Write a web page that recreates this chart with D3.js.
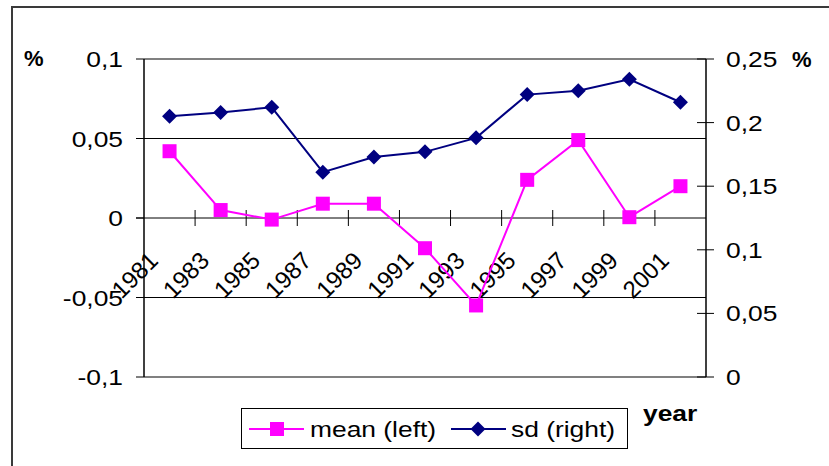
<!DOCTYPE html>
<html>
<head>
<meta charset="utf-8">
<script src="https://cdn.jsdelivr.net/npm/d3@7"></script>
<style>
  body { margin: 0; background: #fff; }
  svg { display: block; font-family: "Liberation Sans", Arial, sans-serif; }
</style>
</head>
<body>
<svg id="chart" width="829" height="466"></svg>
<script>
// data
var years = ["1981","1983","1985","1987","1989","1991","1993","1995","1997","1999","2001"];
var meanVals = [0.042, 0.005, -0.001, 0.009, 0.009, -0.019, -0.055, 0.024, 0.049, 0.0005, 0.020];
var sdVals = [0.205, 0.208, 0.212, 0.161, 0.173, 0.177, 0.188, 0.222, 0.225, 0.234, 0.216];
var leftTicks = [-0.1, -0.05, 0, 0.05, 0.1];
var rightTicks = [0, 0.05, 0.1, 0.15, 0.2, 0.25];

var svg = d3.select("#chart");
var fmt = function(v){ return String(+v.toFixed(2)).replace(".", ","); };
var sx = 1.2; // source picture is a bit wide

var x = d3.scaleBand().domain(years).range([144, 706]).paddingInner(0).paddingOuter(0);
var yL = d3.scaleLinear().domain([-0.1, 0.1]).range([377, 59]);
var yR = d3.scaleLinear().domain([0, 0.25]).range([377, 59]);

function label(txt, px, py, anchor, size, bold){
  return svg.append("text")
    .attr("transform", "translate(" + px + "," + py + ") scale(" + sx + ",1)")
    .attr("text-anchor", anchor || "start")
    .attr("font-size", size || 22)
    .attr("font-weight", bold ? "bold" : "normal")
    .attr("fill", "#000")
    .text(txt);
}

// outer frame (only top and left show)
svg.append("path").attr("d", "M12,466V7H829").attr("fill", "none")
  .attr("stroke", "#3a3a3a").attr("stroke-width", 2);

// gridlines
var g = svg.append("g");
g.selectAll(".grid").data([-0.05, 0.05]).enter().append("line")
  .attr("x1", 144).attr("x2", 706)
  .attr("y1", function(d){ return yL(d); }).attr("y2", function(d){ return yL(d); })
  .attr("stroke", "#000").attr("stroke-width", 1);
// plot border top/bottom
g.selectAll(".pb").data([0.1, -0.1]).enter().append("line")
  .attr("x1", 144).attr("x2", 706)
  .attr("y1", function(d){ return yL(d); }).attr("y2", function(d){ return yL(d); })
  .attr("stroke", "#808080").attr("stroke-width", 2);

// left axis
g.append("line").attr("x1", 144).attr("x2", 144).attr("y1", 59).attr("y2", 377)
  .attr("stroke", "#000").attr("stroke-width", 1.5);
g.selectAll(".lt").data(leftTicks).enter().append("line")
  .attr("x1", 136).attr("x2", 144)
  .attr("y1", function(d){ return yL(d); }).attr("y2", function(d){ return yL(d); })
  .attr("stroke", "#000").attr("stroke-width", 1);
leftTicks.forEach(function(t){
  label(t === 0 ? "0" : fmt(t), 123, yL(t) + 8, "end");
});

// right axis
g.append("line").attr("x1", 706).attr("x2", 706).attr("y1", 59).attr("y2", 377)
  .attr("stroke", "#000").attr("stroke-width", 1.5);
g.selectAll(".rt").data(rightTicks).enter().append("line")
  .attr("x1", 697).attr("x2", 714)
  .attr("y1", function(d){ return yR(d); }).attr("y2", function(d){ return yR(d); })
  .attr("stroke", "#000").attr("stroke-width", 1);
rightTicks.forEach(function(t){
  label(t === 0 ? "0" : fmt(t), 726, yR(t) + 8, "start");
});

// category axis at zero
var y0 = yL(0);
g.append("line").attr("x1", 136).attr("x2", 706).attr("y1", y0).attr("y2", y0)
  .attr("stroke", "#000").attr("stroke-width", 1);
var bounds = years.slice(1).map(function(d){ return x(d); });
g.selectAll(".ct").data(bounds).enter().append("line")
  .attr("x1", function(d){ return d; }).attr("x2", function(d){ return d; })
  .attr("y1", y0 - 8).attr("y2", y0 + 8)
  .attr("stroke", "#000").attr("stroke-width", 1);
svg.selectAll(".yl").data(years).enter().append("text")
  .attr("transform", function(d){
    return "translate(" + (x(d) + x.bandwidth() / 2 - 10) + "," + (y0 + 44) + ") rotate(-45)";
  })
  .attr("text-anchor", "end")
  .attr("font-size", 24)
  .text(function(d){ return d; });

// lines
var cx = function(d, i){ return x(years[i]) + x.bandwidth() / 2; };
svg.append("path").datum(meanVals)
  .attr("d", d3.line().x(cx).y(function(d){ return yL(d); }))
  .attr("fill", "none").attr("stroke", "#ff00ff").attr("stroke-width", 2);
svg.append("path").datum(sdVals)
  .attr("d", d3.line().x(cx).y(function(d){ return yR(d); }))
  .attr("fill", "none").attr("stroke", "#000080").attr("stroke-width", 2);

svg.selectAll(".sq").data(meanVals).enter().append("rect")
  .attr("x", function(d, i){ return cx(d, i) - 7; })
  .attr("y", function(d){ return yL(d) - 7; })
  .attr("width", 14).attr("height", 14)
  .attr("fill", "#ff00ff");
var diamond = function(px, py){ return "M" + px + "," + (py - 7.5) + "L" + (px + 7.5) + "," + py +
  "L" + px + "," + (py + 7.5) + "L" + (px - 7.5) + "," + py + "Z"; };
svg.selectAll(".dm").data(sdVals).enter().append("path")
  .attr("d", function(d, i){ return diamond(cx(d, i), yR(d)); })
  .attr("fill", "#000080");

// unit labels
label("%", 24, 66, "start", 22, true).attr("transform", "translate(24,66)");
label("%", 792, 67, "start", 22, true).attr("transform", "translate(792,67)");
label("year", 643, 421, "start", 22, true);

// legend
svg.append("rect").attr("x", 241.5).attr("y", 408.5).attr("width", 386).attr("height", 40)
  .attr("fill", "#fff").attr("stroke", "#000").attr("stroke-width", 1);
svg.append("line").attr("x1", 249).attr("x2", 304).attr("y1", 429).attr("y2", 429)
  .attr("stroke", "#ff00ff").attr("stroke-width", 2);
svg.append("rect").attr("x", 270).attr("y", 422).attr("width", 14).attr("height", 14).attr("fill", "#ff00ff");
label("mean (left)", 310, 437);
svg.append("line").attr("x1", 451).attr("x2", 506).attr("y1", 429).attr("y2", 429)
  .attr("stroke", "#000080").attr("stroke-width", 2);
svg.append("path").attr("d", diamond(478, 429)).attr("fill", "#000080");
label("sd (right)", 511, 437);
</script>
</body>
</html>
